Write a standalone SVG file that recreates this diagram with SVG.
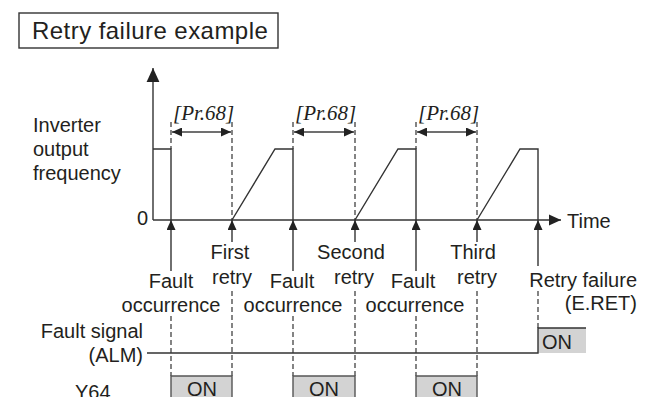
<svg xmlns="http://www.w3.org/2000/svg" width="651" height="397" viewBox="0 0 651 397">
<defs>
<style>
.t{font-family:"Liberation Sans",Arial,sans-serif;font-size:20px;fill:#231f20}
.c{text-anchor:middle}
.e{text-anchor:end}
.pr{font-family:"Liberation Serif","Times New Roman",serif;font-size:21px;font-style:italic;fill:#231f20}
.ln{stroke:#333;stroke-width:1.4;fill:none}
.ds{stroke:#333;stroke-width:1.2;fill:none;stroke-dasharray:5 3}
.box{fill:#d3d3d3;stroke:#555;stroke-width:1.4}
</style>
<marker id="ah" markerUnits="userSpaceOnUse" markerWidth="12" markerHeight="12" viewBox="0 0 10 10" refX="10" refY="5" orient="auto">
<path d="M0,0.5 L10,5 L0,9.5 Z" fill="#222"/>
</marker>
<marker id="ahb" markerUnits="userSpaceOnUse" markerWidth="14" markerHeight="14" viewBox="0 0 12 12" refX="12" refY="6" orient="auto">
<path d="M0,0.5 L12,6 L0,11.5 Z" fill="#222"/>
</marker>
<marker id="aus" markerUnits="userSpaceOnUse" markerWidth="10" markerHeight="9" viewBox="0 0 10 9" refX="10" refY="4.5" orient="auto">
<path d="M0,0 L10,4.5 L0,9 Z" fill="#222"/>
</marker>
</defs>

<g id="title">
<rect x="19" y="13" width="259" height="35" fill="#fff" stroke="#333" stroke-width="1.4"/>
<text class="t" x="32" y="39" style="font-size:24px;letter-spacing:0.45px">Retry failure example</text>
</g>

<g id="labels">
<text class="t" x="33" y="132">Inverter</text>
<text class="t" x="33" y="156">output</text>
<text class="t" x="33" y="180">frequency</text>
<text class="t e" x="148" y="225">0</text>
<text class="t" x="567" y="228">Time</text>
<text class="t e" x="143" y="338">Fault signal</text>
<text class="t e" x="143" y="362">(ALM)</text>
<text class="t" x="75" y="399">Y64</text>
</g>

<g id="axes">
<line class="ln" x1="153" y1="220" x2="153" y2="68" marker-end="url(#ahb)"/>
<line class="ln" x1="153" y1="220" x2="561" y2="220" marker-end="url(#ah)"/>
</g>

<g id="waveform">
<polyline class="ln" points="153,149 171,149 171,220"/>
<polyline class="ln" points="232,220 275,149 293,149 293,220"/>
<polyline class="ln" points="355,220 398,149 416,149 416,220"/>
<polyline class="ln" points="477,220 520,149 538,149 538,220"/>
</g>

<g id="connectors">
<line class="ds" x1="171" y1="122" x2="171" y2="149"/>
<line class="ds" x1="232" y1="122" x2="232" y2="220"/>
<line class="ds" x1="293" y1="122" x2="293" y2="149"/>
<line class="ds" x1="355" y1="122" x2="355" y2="220"/>
<line class="ds" x1="416" y1="122" x2="416" y2="149"/>
<line class="ds" x1="477" y1="122" x2="477" y2="220"/>
<line class="ln" x1="201" y1="132" x2="172" y2="132" marker-end="url(#aus)"/>
<line class="ln" x1="201" y1="132" x2="231" y2="132" marker-end="url(#aus)"/>
<line class="ln" x1="324" y1="132" x2="294" y2="132" marker-end="url(#aus)"/>
<line class="ln" x1="324" y1="132" x2="354" y2="132" marker-end="url(#aus)"/>
<line class="ln" x1="446" y1="132" x2="417" y2="132" marker-end="url(#aus)"/>
<line class="ln" x1="446" y1="132" x2="476" y2="132" marker-end="url(#aus)"/>
<line class="ln" x1="171" y1="271" x2="171" y2="220" marker-end="url(#aus)"/>
<line class="ln" x1="232" y1="242" x2="232" y2="220" marker-end="url(#aus)"/>
<line class="ln" x1="293" y1="271" x2="293" y2="220" marker-end="url(#aus)"/>
<line class="ln" x1="355" y1="242" x2="355" y2="220" marker-end="url(#aus)"/>
<line class="ln" x1="416" y1="271" x2="416" y2="220" marker-end="url(#aus)"/>
<line class="ln" x1="477" y1="242" x2="477" y2="220" marker-end="url(#aus)"/>
<line class="ln" x1="538" y1="266" x2="538" y2="220" marker-end="url(#aus)"/>
<line class="ds" x1="171" y1="316" x2="171" y2="376"/>
<line class="ds" x1="232" y1="291" x2="232" y2="376"/>
<line class="ds" x1="293" y1="316" x2="293" y2="376"/>
<line class="ds" x1="355" y1="291" x2="355" y2="376"/>
<line class="ds" x1="416" y1="316" x2="416" y2="376"/>
<line class="ds" x1="477" y1="291" x2="477" y2="376"/>
<line class="ds" x1="538" y1="291" x2="538" y2="328"/>
</g>

<g id="pr68">
<text class="pr" x="173" y="120">[Pr.68]</text>
<text class="pr" x="295" y="120">[Pr.68]</text>
<text class="pr" x="418" y="120">[Pr.68]</text>
</g>

<g id="events">
<text class="t c" x="171" y="288">Fault</text>
<text class="t c" x="171" y="312">occurrence</text>
<text class="t c" x="230" y="259">First</text>
<text class="t c" x="232" y="284">retry</text>
<text class="t c" x="292" y="288">Fault</text>
<text class="t c" x="293" y="312">occurrence</text>
<text class="t c" x="351" y="259">Second</text>
<text class="t c" x="354" y="284">retry</text>
<text class="t c" x="413" y="288">Fault</text>
<text class="t c" x="415" y="312">occurrence</text>
<text class="t c" x="473" y="259">Third</text>
<text class="t c" x="477" y="284">retry</text>
<text class="t e" x="637" y="287">Retry failure</text>
<text class="t e" x="637" y="310">(E.RET)</text>
</g>

<g id="alm">
<rect x="538" y="328" width="48" height="25" fill="#d3d3d3"/>
<polyline class="ln" points="147,353 538,353 538,328 586,328"/>
<text class="t" x="542" y="349">ON</text>
</g>

<g id="y64">
<path class="box" d="M171,398 V376 H232 V398"/>
<text class="t c" x="202" y="396">ON</text>
<path class="box" d="M293,398 V376 H355 V398"/>
<text class="t c" x="324" y="396">ON</text>
<path class="box" d="M416,398 V376 H477 V398"/>
<text class="t c" x="447" y="396">ON</text>
</g>
</svg>
